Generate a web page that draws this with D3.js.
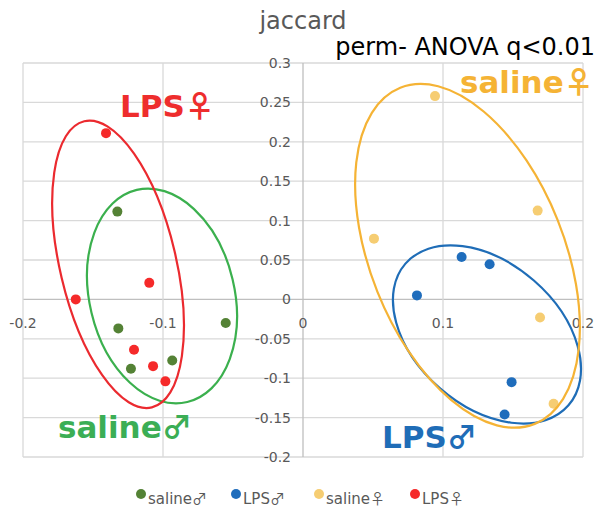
<!DOCTYPE html>
<html>
<head>
<meta charset="utf-8">
<script src="https://d3js.org/d3.v7.min.js"></script>
<style>
  body { margin: 0; background: #fff; }
  svg { display: block; }
</style>
</head>
<body>
<div id="chart"></div>
<script>
// tick values
var xTicks = [-0.2, -0.1, 0, 0.1, 0.2];
var yTicks = [0.3, 0.25, 0.2, 0.15, 0.1, 0.05, 0, -0.05, -0.1, -0.15, -0.2];

// groups
var groupNames = ["saline", "LPS", "saline", "LPS"];
var groupSex = ["♂", "♂", "♀", "♀"];
var groupColors = ["#548235", "#1f6dbc", "#f6cd72", "#f52a2a"];

// points per group
var salineMaleX = [-0.1326, -0.1319, -0.1229, -0.0934, -0.0552];
var salineMaleY = [0.1114, -0.0368, -0.088, -0.0775, -0.030];
var lpsMaleX = [0.1133, 0.1333, 0.0814, 0.149, 0.144];
var lpsMaleY = [0.0538, 0.0445, 0.0051, -0.105, -0.146];
var salineFemaleX = [0.0943, 0.1676, 0.0507, 0.1693, 0.179];
var salineFemaleY = [0.258, 0.1127, 0.0771, -0.0229, -0.1325];
var lpsFemaleX = [-0.1407, -0.1623, -0.1098, -0.1207, -0.1071, -0.0983];
var lpsFemaleY = [0.211, 0.0, 0.021, -0.064, -0.0847, -0.104];

// group ellipses (centre in data units)
var ellipseCx = [-0.1007, 0.1314, 0.1175, -0.1321];
var ellipseCy = [0.0044, -0.0445, 0.0553, 0.0445];

// group labels (left / baseline in data units)
var labelX = [-0.175, 0.0564, 0.1121, -0.1307];
var labelY = [-0.1753, -0.189, 0.2617, 0.231];

var W = 600, H = 508;
var svg = d3.select("#chart").append("svg")
    .attr("width", W).attr("height", H);

var x = d3.scaleLinear().domain([-0.2, 0.2]).range([23, 583]);
var y = d3.scaleLinear().domain([-0.2, 0.3]).range([457, 63]);

var font = "'DejaVu Sans', Verdana, sans-serif";
var symFont = "'Noto Sans CJK JP', sans-serif";

// gridlines
svg.append("g").selectAll("line")
    .data(yTicks).enter().append("line")
    .attr("x1", x(-0.2)).attr("x2", x(0.2))
    .attr("y1", function (d) { return y(d); })
    .attr("y2", function (d) { return y(d); })
    .attr("stroke", function (d) { return d === 0 ? "#bfbfbf" : "#d9d9d9"; })
    .attr("stroke-width", 1.3);

svg.append("g").selectAll("line")
    .data(xTicks).enter().append("line")
    .attr("y1", y(0.3)).attr("y2", y(-0.2))
    .attr("x1", function (d) { return x(d); })
    .attr("x2", function (d) { return x(d); })
    .attr("stroke", function (d) { return d === 0 ? "#bfbfbf" : "#d9d9d9"; })
    .attr("stroke-width", 1.3);

// tick labels
svg.append("g").selectAll("text")
    .data(yTicks).enter().append("text")
    .attr("x", x(0) - 12)
    .attr("y", function (d) { return y(d) + 5; })
    .attr("text-anchor", "end")
    .style("font-family", font).style("font-size", "14px")
    .style("fill", "#595959")
    .text(function (d) { return d; });

svg.append("g").selectAll("text")
    .data(xTicks).enter().append("text")
    .attr("x", function (d) { return x(d); })
    .attr("y", y(0) + 29)
    .attr("text-anchor", "middle")
    .style("font-family", font).style("font-size", "14px")
    .style("fill", "#595959")
    .text(function (d) { return d; });

// titles
svg.append("text")
    .attr("x", 303).attr("y", 29)
    .attr("text-anchor", "middle")
    .style("font-family", font).style("font-size", "24px")
    .style("fill", "#595959")
    .text("jaccard");

svg.append("text")
    .attr("x", 595).attr("y", 55)
    .attr("text-anchor", "end")
    .style("font-family", font).style("font-size", "24px")
    .style("fill", "#000")
    .text("perm- ANOVA q<0.01");

// points
var series = [
    [salineMaleX, salineMaleY],
    [lpsMaleX, lpsMaleY],
    [salineFemaleX, salineFemaleY],
    [lpsFemaleX, lpsFemaleY]
];

series.forEach(function (s, i) {
    svg.append("g").selectAll("circle")
        .data(s[0]).enter().append("circle")
        .attr("cx", function (d) { return x(d); })
        .attr("cy", function (d, j) { return y(s[1][j]); })
        .attr("r", 5)
        .attr("fill", groupColors[i]);
});

// ellipses: semi axes in px, rotation in degrees
var ellipseStroke = ["#3bb04e", "#1f6db7", "#f5b335", "#eb2a2f"];
var ellipseA = [109, 108, 181, 147];
var ellipseB = [72.5, 71.5, 97, 58];
var ellipseRot = [76.6, 41, 68.2, 76.7];

ellipseCx.forEach(function (cx, i) {
    svg.append("ellipse")
        .attr("transform", "translate(" + x(cx) + "," + y(ellipseCy[i]) + ") rotate(" + ellipseRot[i] + ")")
        .attr("rx", ellipseA[i]).attr("ry", ellipseB[i])
        .attr("fill", "none")
        .attr("stroke", ellipseStroke[i])
        .attr("stroke-width", 2.2);
});

// group labels
var labelColors = ["#3bae55", "#1f6db7", "#f5b335", "#ee2d2d"];
groupNames.forEach(function (n, i) {
    var t = svg.append("text")
        .attr("x", x(labelX[i])).attr("y", y(labelY[i]))
        .style("font-family", font)
        .style("font-weight", "bold").style("font-size", "31px")
        .style("fill", labelColors[i]);
    t.append("tspan").text(n);
    t.append("tspan").style("font-family", symFont).style("font-size", "30px").text(groupSex[i]);
});

// legend
var legendX = [141, 236, 319, 415];
var legend = svg.append("g");
groupNames.forEach(function (n, i) {
    legend.append("circle")
        .attr("cx", legendX[i]).attr("cy", 494)
        .attr("r", 5).attr("fill", groupColors[i]);
    var t = legend.append("text")
        .attr("x", legendX[i] + 7).attr("y", 504)
        .style("font-family", font).style("font-size", "15px")
        .style("fill", "#595959");
    t.append("tspan").text(n);
    t.append("tspan").style("font-family", symFont).text(groupSex[i]);
});
</script>
</body>
</html>
